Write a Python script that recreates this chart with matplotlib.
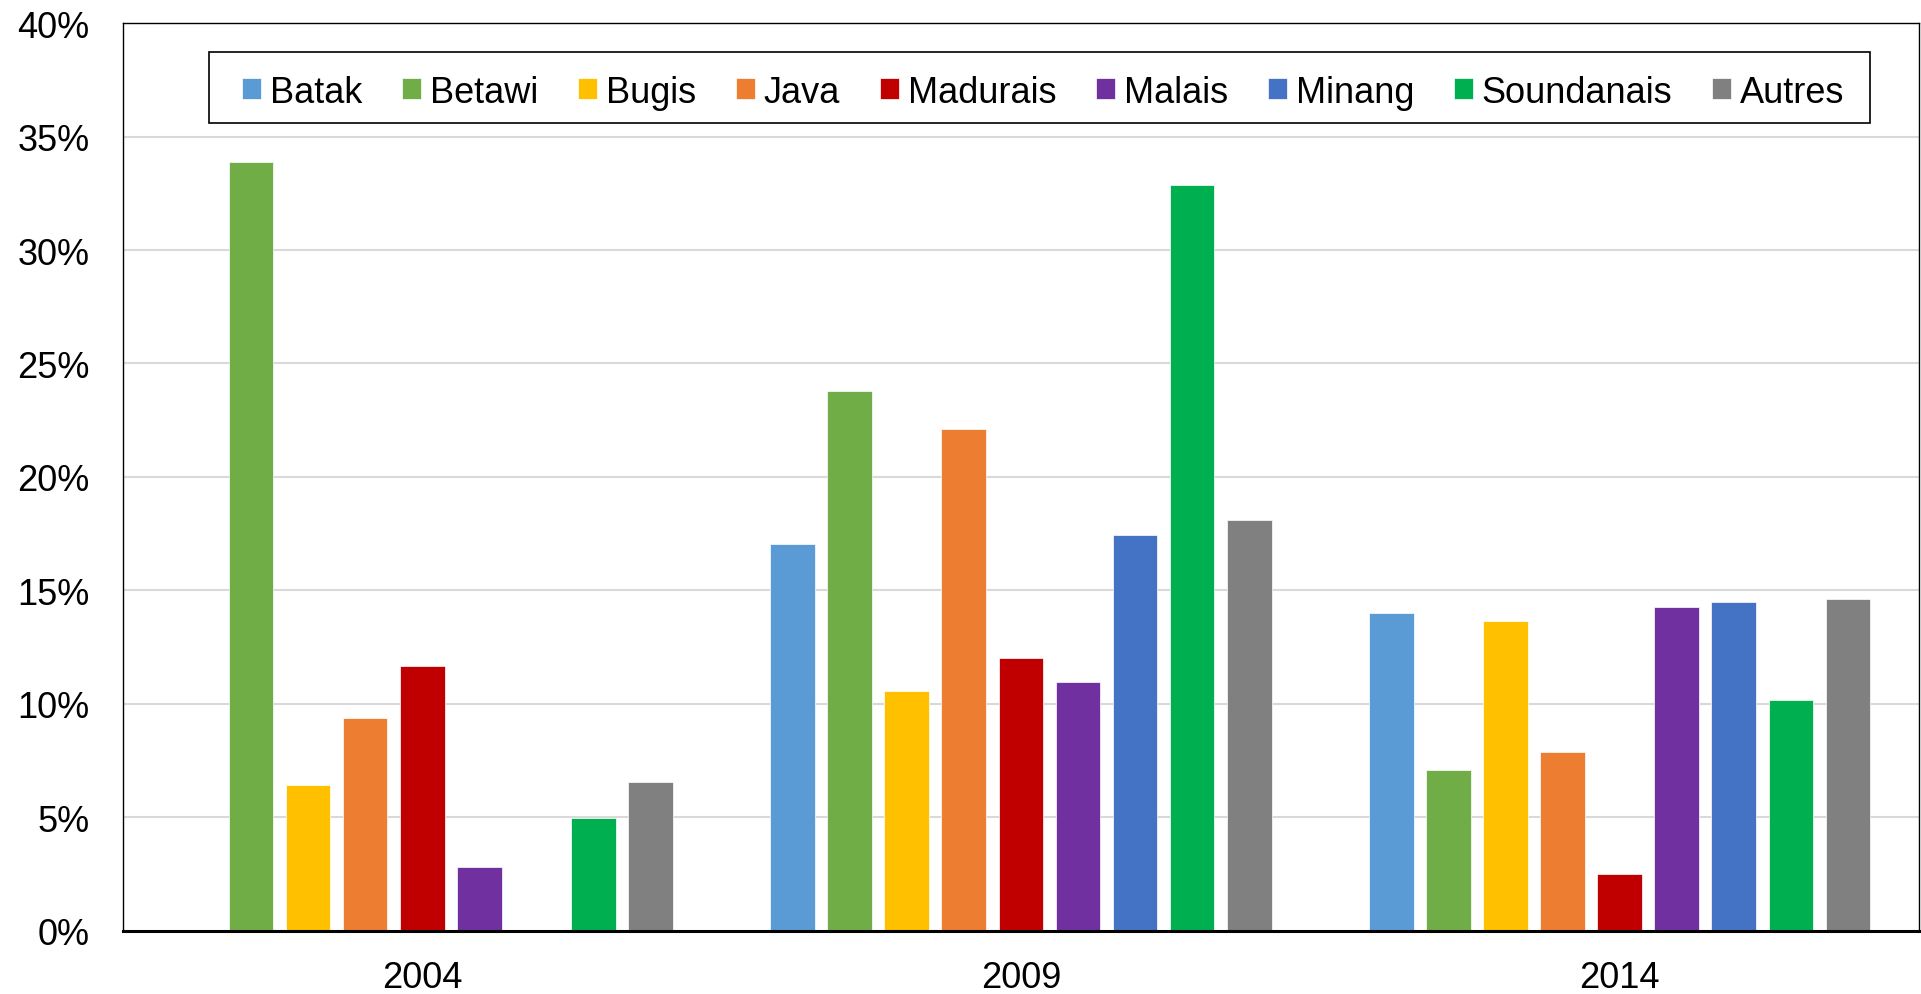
import numpy as np
import matplotlib
matplotlib.use("Agg")
import matplotlib.pyplot as plt
from matplotlib.patches import Rectangle
from matplotlib.ticker import FuncFormatter

plt.rcParams['font.family'] = ['Liberation Sans', 'DejaVu Sans']

# categories (years) and one series per group
years = ["2004", "2009", "2014"]
groups = ["Batak", "Betawi", "Bugis", "Java", "Madurais", "Malais", "Minang", "Soundanais", "Autres"]

# values in %, nan = no bar
batak = [np.nan, 17.05, 14.0]
betawi = [33.9, 23.8, 7.07]
bugis = [6.42, 10.55, 13.66]
java = [9.39, 22.12, 7.87]
madurais = [11.65, 12.0, 2.49]
malais = [2.82, 10.95, 14.26]
minang = [np.nan, 17.42, 14.49]
soundanais = [4.95, 32.85, 10.15]
autres = [6.53, 18.1, 14.6]

colors = ["#5B9BD5", "#70AD47", "#FFC000", "#ED7D31", "#C00000",
          "#7030A0", "#4472C4", "#00B050", "#808080"]


def plot_bars(ax, series_list):
    x = np.arange(len(years))
    slot = 0.0953
    width = 0.0747
    for i, (vals, name, col) in enumerate(zip(series_list, groups, colors)):
        ax.bar(x + (i - 4) * slot, vals, width, color=col, label=name,
               edgecolor="white", linewidth=0.5, zorder=3)
    ax.set_xticks(x)
    ax.set_xticklabels(years)
    ax.set_xlim(-0.5, 2.5)


fig = plt.figure(figsize=(19.21, 9.95), dpi=100)
ax = fig.add_axes([0.0639, 0.0638, 0.9351, 0.9118])

plot_bars(ax, [batak, betawi, bugis, java, madurais, malais, minang, soundanais, autres])

ax.set_ylim(0, 40)
ax.set_yticks(range(0, 41, 5))
ax.yaxis.set_major_formatter(FuncFormatter(lambda v, p: "%d%%" % v))
ax.tick_params(axis="both", length=0, labelsize=26)
ax.tick_params(axis="y", pad=24)
ax.tick_params(axis="x", pad=21)
ax.grid(axis="y", color="#D9D9D9", linewidth=1.5, zorder=0)
ax.set_axisbelow(True)

for side in ["left", "top", "right"]:
    ax.spines[side].set_linewidth(1.0)
    ax.spines[side].set_color("black")
ax.spines["bottom"].set_linewidth(2.2)
ax.spines["bottom"].set_zorder(4)

# legend frame drawn by hand, entries spread inside it
ax.add_patch(Rectangle((0.0479, 0.8905), 0.9248, 0.0775, transform=ax.transAxes,
                       facecolor="white", edgecolor="black", linewidth=1.2, zorder=5))
leg = ax.legend(loc="center", bbox_to_anchor=(0.0665, 0.8855, 0.892, 0.0775),
                mode="expand", ncol=9, frameon=False, fontsize=26,
                borderpad=0, borderaxespad=0, handlelength=0.53, handleheight=0.53,
                handletextpad=0.24, columnspacing=1.0)
leg.set_zorder(6)

plt.savefig("out.png", dpi=100)
